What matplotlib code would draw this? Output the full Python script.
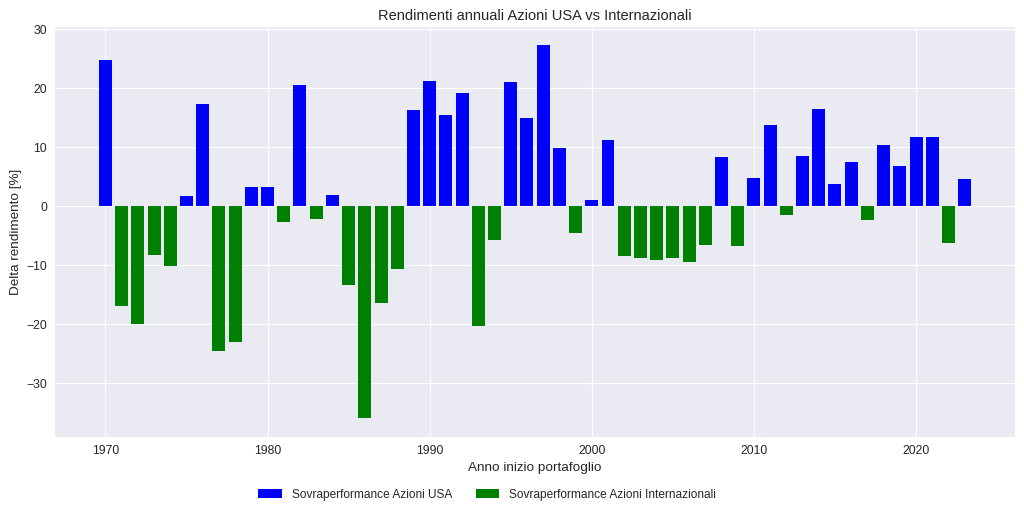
import numpy as np
import matplotlib
matplotlib.use("Agg")
import matplotlib.pyplot as plt

# Delta rendimento annuale (Azioni USA - Azioni Internazionali), in %
years = list(range(1970, 2024))
delta = [
    24.8, -16.9, -19.9, -8.2, -10.1, 1.7, 17.4, -24.5, -23.0, 3.3,
    3.3, -2.6, 20.5, -2.1, 1.9, -13.3, -36.0, -16.5, -10.6, 16.3,
    21.2, 15.5, 19.2, -20.3, -5.8, 21.1, 15.0, 27.3, 9.8, -4.6,
    1.1, 11.2, -8.4, -8.8, -9.1, -8.8, -9.5, -6.5, 8.3, -6.7,
    4.8, 13.8, -1.5, 8.6, 16.5, 3.8, 7.5, -2.4, 10.4, 6.9,
    11.7, 11.7, -6.3, 4.6,
]

years = np.array(years)
delta = np.array(delta)
pos = delta >= 0

plt.style.use("seaborn-v0_8")

dpi = 1024 / 12
fig, ax = plt.subplots(figsize=(12, 513 / dpi), dpi=dpi)

ax.bar(years[pos], delta[pos], color="blue", label="Sovraperformance Azioni USA")
ax.bar(years[~pos], delta[~pos], color="green", label="Sovraperformance Azioni Internazionali")

ax.set_title("Rendimenti annuali Azioni USA vs Internazionali", fontsize=12.4)
ax.set_xlabel("Anno inizio portafoglio", fontsize=11.4)
ax.set_ylabel("Delta rendimento [%]", fontsize=11.4)
ax.tick_params(labelsize=10.4)
ax.legend(loc="upper center", bbox_to_anchor=(0.45, -0.10), ncol=2,
          frameon=False, fontsize=10)

fig.subplots_adjust(left=0.054, right=0.991, top=0.948, bottom=0.148)
fig.savefig("out.png", dpi=dpi)
